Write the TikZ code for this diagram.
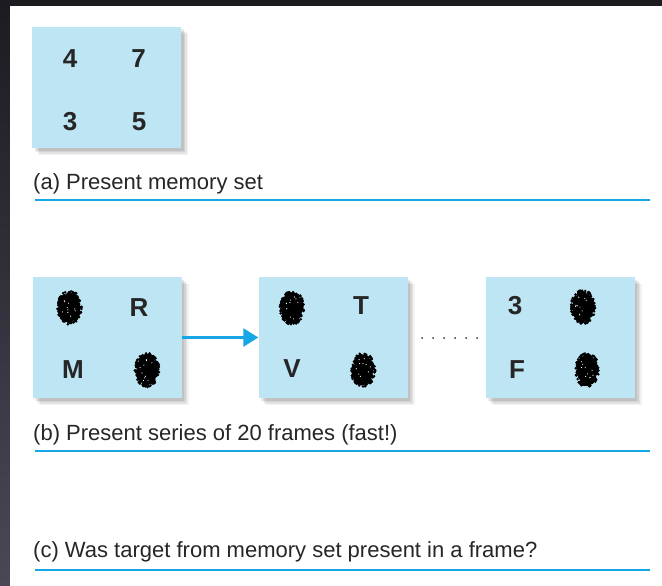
\documentclass[tikz,border=0pt]{standalone}
\usepackage{fontspec}
\setmainfont{Liberation Sans}
\usetikzlibrary{arrows.meta,shapes.geometric,decorations.pathmorphing}

\definecolor{framebg}{RGB}{190,229,243}
\definecolor{lineblue}{RGB}{22,166,230}
\definecolor{darktop}{RGB}{27,27,32}
\definecolor{darkbot}{RGB}{74,72,86}

% ragged, speckled ink blot round a named node
\newcommand\inkblot[1]{%
  \foreach \k in {1,...,280}{%
    \pgfmathsetmacro\ang{360*rnd}%
    \pgfmathsetmacro\rad{sqrt(rnd)}%
    \fill[shift={(#1)}] ({12.2*\rad*cos(\ang)},{17*\rad*sin(\ang)}) circle (1.4pt);
  }%
  \foreach \k in {1,...,10}{%
    \pgfmathsetmacro\ang{360*rnd}%
    \pgfmathsetmacro\rad{0.8*sqrt(rnd)}%
    \fill[white, shift={(#1)}] ({10*\rad*cos(\ang)},{15*\rad*sin(\ang)}) circle (0.6pt);
  }%
}

\begin{document}
\begin{tikzpicture}[x=1pt, y=-1pt,
    frame/.style={rectangle, fill=framebg, minimum width=149pt, minimum height=121pt, inner sep=0pt,
        preaction={fill=black, opacity=.05, transform canvas={xshift=7pt, yshift=-7pt}},
        preaction={fill=black, opacity=.06, transform canvas={xshift=5.5pt, yshift=-5.5pt}},
        preaction={fill=black, opacity=.07, transform canvas={xshift=4pt, yshift=-4pt}},
        preaction={fill=black, opacity=.08, transform canvas={xshift=2.5pt, yshift=-2.5pt}}},
    sym/.style={font=\fontsize{26}{26}\selectfont\bfseries, inner sep=0pt, text=black!85},
    blob/.style={ellipse, fill=black, minimum width=21pt, minimum height=31pt, inner sep=0pt,
        decorate, decoration={random steps, segment length=1.5pt, amplitude=1.4pt}},
    caption/.style={anchor=base west, inner sep=0pt, font=\fontsize{22}{24}\selectfont, text=black!85},
    sepline/.style={draw=lineblue, line width=2.6pt}]

    \pgfmathsetseed{7}

    % page and dark border
    \useasboundingbox (0,0) rectangle (662,586);
    \shade[top color=darktop, bottom color=darkbot] (0,0) rectangle (662,586);
    \fill[white] (10,6) rectangle (662,586);

    % (a) memory set
    \node[frame] (fa) at (106.5,87.5) {};
    \node[sym] (a4) at (70,59) {4};
    \node[sym] (a7) at (138.5,59) {7};
    \node[sym] (a3) at (70,122) {3};
    \node[sym] (a5) at (139,122) {5};
    \node[caption] (capa) at (33,189) {(a) Present memory set};
    \draw[sepline] (35,200) -- (650,200);

    % (b) frames
    \node[frame] (fb1) at (107,337.5) {};
    \node[blob] (b1x) at (69.5,307.5) {};
    \node[sym] (b1r) at (139,308) {R};
    \node[sym] (b1m) at (73,370) {M};
    \node[blob] (b1y) at (147,370) {};

    \node[frame] (fb2) at (333,337.5) {};
    \node[blob] (b2x) at (292,308) {};
    \node[sym] (b2t) at (361,306) {T};
    \node[sym] (b2v) at (292,369) {V};
    \node[blob] (b2y) at (363,370) {};

    \node[frame] (fb3) at (560,337.5) {};
    \node[sym] (b33) at (515,306) {3};
    \node[blob] (b3x) at (583,307) {};
    \node[sym] (b3f) at (517,370) {F};
    \node[blob] (b3y) at (587,370) {};

    \foreach \b in {b1x,b1y,b2x,b2y,b3x,b3y}{
        \inkblot{\b}
    }

    \draw[lineblue, line width=2.6pt, -{Triangle[length=15pt,width=18pt]}] (fb1.east) -- (fb2.west);
    \foreach \i in {0,...,5}
        \fill[black!80] (422+11*\i,338) circle (1pt);

    \node[caption] (capb) at (33,440) {(b) Present series of 20 frames (fast!)};
    \draw[sepline] (35,451) -- (650,451);

    % (c) question
    \node[caption] (capc) at (33,557) {(c) Was target from memory set present in a frame?};
    \draw[sepline] (35,570) -- (650,570);
\end{tikzpicture}
\end{document}
